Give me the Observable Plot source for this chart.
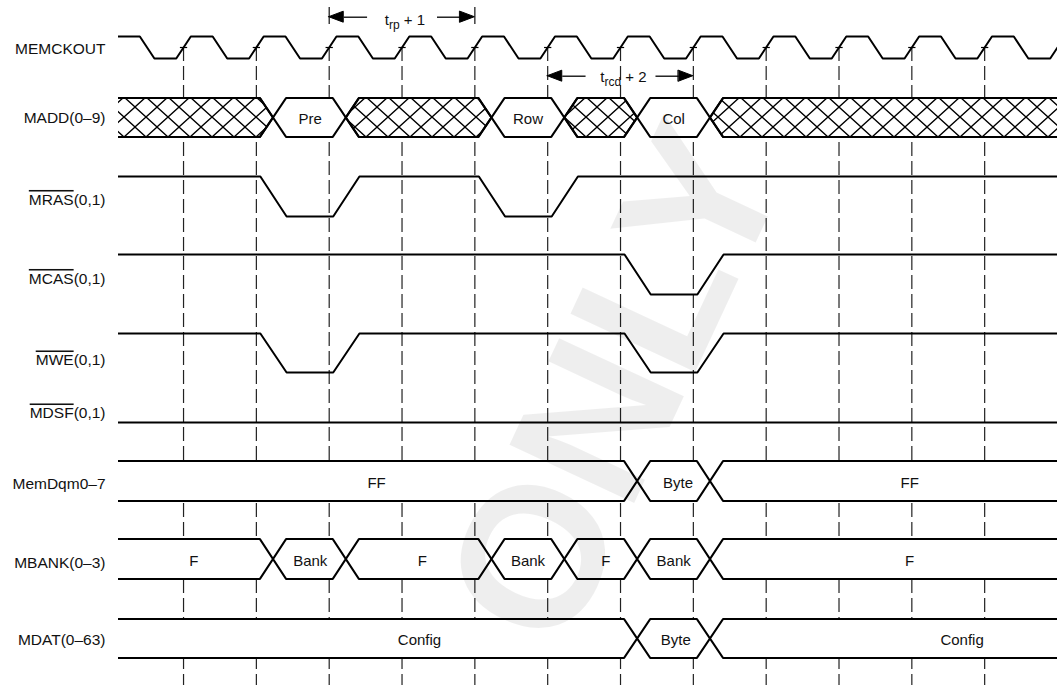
<!DOCTYPE html>
<html>
<head>
<meta charset="utf-8">
<script src="https://cdn.jsdelivr.net/npm/d3@7"></script>
<script src="https://cdn.jsdelivr.net/npm/@observablehq/plot@0.6"></script>
<style>
  html, body { margin: 0; padding: 0; background: #fff; }
  #chart svg { display: block; }
</style>
</head>
<body>
<svg width="0" height="0" style="position:absolute">
  <defs>
    <pattern id="hatch" patternUnits="userSpaceOnUse" width="22" height="20" x="3" y="7">
      <path d="M0,0L22,20M22,0L0,20M-11,-10L11,10M11,30L33,10" stroke="#000" stroke-width="1.3" fill="none"/>
    </pattern>
  </defs>
</svg>
<div id="chart"></div>
<script>
// ---------------- data (times in clock periods; rising edge k at t = k) ----------------
const signalNames = ["MEMCKOUT", "MADD(0–9)", "MRAS(0,1)", "MCAS(0,1)", "MWE(0,1)", "MDSF(0,1)", "MemDqm0–7", "MBANK(0–3)", "MDAT(0–63)"];
const overlinedNames = ["MRAS", "MCAS", "MWE", "MDSF"];
const clockEdges = [0, 1, 2, 3, 4, 5, 6, 7, 8, 9, 10, 11];
// MEMCKOUT level in each half period, starting at t = -1
const memckoutLevels = [1, 0, 1, 0, 1, 0, 1, 0, 1, 0, 1, 0, 1, 0, 1, 0, 1, 0, 1, 0, 1, 0, 1, 0, 1, 0, 1];
// single-bit signals: [edge, new level]
const mrasChanges = [[1, 0], [2, 1], [4, 0], [5, 1]];
const mcasChanges = [[6, 0], [7, 1]];
const mweChanges  = [[1, 0], [2, 1], [6, 0], [7, 1]];
const mdsfChanges = [];
// buses: [from edge, to edge, value (null = don't care), label time]
const maddStates   = [[-2, 1, null], [1, 2, "Pre", 1.74], [2, 4, null], [4, 5, "Row", 4.73], [5, 6, null], [6, 7, "Col", 6.73], [7, 14, null]];
const memDqmStates = [[-2, 6, "FF", 2.65], [6, 7, "Byte", 6.79], [7, 14, "FF", 9.97]];
const mbankStates  = [[-2, 1, "F", 0.14], [1, 2, "Bank", 1.74], [2, 4, "F", 3.28], [4, 5, "Bank", 4.73], [5, 6, "F", 5.8], [6, 7, "Bank", 6.73], [7, 14, "F", 9.97]];
const mdatStates   = [[-2, 6, "Config", 3.24], [6, 7, "Byte", 6.76], [7, 14, "Config", 10.69]];
// timing annotations
const timingFrom   = [2, 5];
const timingTo     = [4, 7];
const timingLabels = ["t{rp} + 1", "t{rcd} + 2"];
const watermarkText = ["ONLY"];

// ---------------- layout ----------------
const W = 1057, H = 685;
const FONT = "'Liberation Sans', Arial, Helvetica, sans-serif";
const X_DOMAIN = [-0.893, 12.0];
const laneLayout = [
  {hi: 36,  lo: 58,  label: 49},
  {hi: 98,  lo: 137, label: 118},
  {hi: 176, lo: 216, label: 199.5},
  {hi: 254, lo: 294, label: 278.5},
  {hi: 333, lo: 372, label: 360},
  {hi: 422, lo: 422, label: 413},
  {hi: 461, lo: 501, label: 484},
  {hi: 539, lo: 579, label: 562.5},
  {hi: 619, lo: 658, label: 639.5}
];
const arrowLayout = [{y: 16.7, textY: 20, tickTop: 7}, {y: 75.7, textY: 77, tickTop: null}];
const watermarkLayout = {t: 5.97, y: 385, rotate: -65, size: 200};
const DELAY = 0.055, SLEW = 0.36, CLK_SLEW = 0.2;
const HEAD = 0.2, HEAD_H = 5.5, GAP = 0.48;

// ---------------- build tables ----------------
const waveRows = [];
function addWave(idx, initial, changes, delay, width) {
  const L = laneLayout[idx];
  const yOf = v => (v ? L.hi : L.lo);
  let cur = initial;
  waveRows.push({id: idx, t: -1.5, y: yOf(cur)});
  for (const [t, v] of changes) {
    if (v === cur) continue;
    waveRows.push({id: idx, t: t + delay, y: yOf(cur)});
    waveRows.push({id: idx, t: t + delay + width, y: yOf(v)});
    cur = v;
  }
  waveRows.push({id: idx, t: 13, y: yOf(cur)});
}
const clockChanges = memckoutLevels.slice(1).map((v, i) => [-1 + 0.5 * (i + 1), v]);
addWave(0, memckoutLevels[0], clockChanges, -CLK_SLEW / 2, CLK_SLEW);
addWave(2, 1, mrasChanges, DELAY, SLEW);
addWave(3, 1, mcasChanges, DELAY, SLEW);
addWave(4, 1, mweChanges, DELAY, SLEW);
addWave(5, 1, mdsfChanges, DELAY, SLEW);

const busRows = [], busLabels = [];
function addBus(idx, states) {
  const L = laneLayout[idx], mid = (L.hi + L.lo) / 2;
  states.forEach(([a, b, value, lt], i) => {
    const id = idx + "-" + i, hatch = value == null;
    [[a + DELAY + SLEW / 2, mid, mid], [a + DELAY + SLEW, L.hi, L.lo], [b + DELAY, L.hi, L.lo], [b + DELAY + SLEW / 2, mid, mid]]
      .forEach(([t, y1, y2]) => busRows.push({id, t, y1, y2, hatch}));
    if (!hatch) busLabels.push({t: lt, y: mid + 1.5, label: value});
  });
}
addBus(1, maddStates);
addBus(6, memDqmStates);
addBus(7, mbankStates);
addBus(8, mdatStates);

const signalLabels = signalNames.map((label, i) => ({label, y: laneLayout[i].label}));
const clockMid = (laneLayout[0].hi + laneLayout[0].lo) / 2;

const arrowLines = [], arrowHeads = [], arrowTexts = [], arrowTicks = [];
timingLabels.forEach((label, i) => {
  const a = timingFrom[i], b = timingTo[i], L = arrowLayout[i], m = (a + b) / 2;
  arrowLines.push({x1: a + HEAD, x2: m - GAP, y: L.y}, {x1: m + GAP, x2: b - HEAD, y: L.y});
  arrowHeads.push({id: i + "l", t: a, y1: L.y, y2: L.y}, {id: i + "l", t: a + HEAD, y1: L.y - HEAD_H, y2: L.y + HEAD_H});
  arrowHeads.push({id: i + "r", t: b - HEAD, y1: L.y - HEAD_H, y2: L.y + HEAD_H}, {id: i + "r", t: b, y1: L.y, y2: L.y});
  arrowTexts.push({t: m + 0.04, y: L.textY, label});
  if (L.tickTop != null) arrowTicks.push({t: a, y1: L.tickTop, y2: clockMid - 23}, {t: b, y1: L.tickTop, y2: clockMid - 23});
});

const chart = Plot.plot({
  width: W, height: H,
  marginLeft: 118, marginRight: 0, marginTop: 0, marginBottom: 0,
  x: {domain: X_DOMAIN, axis: null},
  y: {domain: [0, H], range: [0, H], axis: null},
  style: {fontFamily: FONT, background: "white", overflow: "visible", color: "black"},
  marks: [
    Plot.ruleX(clockEdges, {x: d => d, y1: clockMid, y2: H, stroke: "#222", strokeWidth: 1.2, strokeDasharray: "14,5"}),
    Plot.ruleX(arrowTicks, {x: "t", y1: "y1", y2: "y2", stroke: "#111", strokeWidth: 1.2}),
    Plot.line(waveRows, {x: "t", y: "y", z: "id", stroke: "black", strokeWidth: 2, clip: true}),
    Plot.link(clockEdges, {x1: d => d - 0.05, x2: d => d + 0.05, y1: () => clockMid, y2: () => clockMid, stroke: "black", strokeWidth: 1.2}),
    Plot.area(busRows, {x1: "t", y1: "y1", y2: "y2", z: "id", fill: "white", stroke: "black", strokeWidth: 2.2, clip: true}),
    Plot.area(busRows.filter(d => d.hatch), {x1: "t", y1: "y1", y2: "y2", z: "id", fill: "url(#hatch)", stroke: "black", strokeWidth: 2.2, clip: true}),
    Plot.text(busLabels, {x: "t", y: "y", text: "label", fontSize: 15, fill: "#111"}),
    Plot.text(signalLabels, {x: () => X_DOMAIN[0], y: "y", text: "label", textAnchor: "end", dx: -13, fontSize: 15.5, fill: "#111"}),
    Plot.link(arrowLines, {x1: "x1", x2: "x2", y1: "y", y2: "y", stroke: "black", strokeWidth: 1.3}),
    Plot.area(arrowHeads, {x1: "t", y1: "y1", y2: "y2", z: "id", fill: "black", stroke: "black", strokeWidth: 1}),
    Plot.text(arrowTexts, {x: "t", y: "y", text: "label", fontSize: 15, fill: "#111"}),
    Plot.text(watermarkText, {x: () => watermarkLayout.t, y: () => watermarkLayout.y, text: d => d, rotate: watermarkLayout.rotate, fontSize: watermarkLayout.size, fontWeight: "bold", fill: "black", fillOpacity: 0.065})
  ]
});

// overlines and subscripts as tspans
const SVGNS = "http://www.w3.org/2000/svg";
chart.querySelectorAll("text").forEach(el => {
  const s = el.textContent;
  const over = overlinedNames.find(n => s.startsWith(n + "("));
  if (over) {
    el.textContent = "";
    const t1 = document.createElementNS(SVGNS, "tspan");
    t1.textContent = over;
    t1.setAttribute("style", "text-decoration: overline");
    el.appendChild(t1);
    el.appendChild(document.createTextNode(s.slice(over.length)));
    return;
  }
  const m = s.match(/^(.*)\{(.*)\}(.*)$/);
  if (m) {
    el.textContent = "";
    const a = document.createElementNS(SVGNS, "tspan"); a.textContent = m[1];
    const b = document.createElementNS(SVGNS, "tspan"); b.textContent = m[2];
    b.setAttribute("dy", "4"); b.setAttribute("font-size", "12");
    const c = document.createElementNS(SVGNS, "tspan"); c.textContent = m[3];
    c.setAttribute("dy", "-4");
    el.append(a, b, c);
  }
});
document.getElementById("chart").appendChild(chart);
</script>
</body>
</html>
